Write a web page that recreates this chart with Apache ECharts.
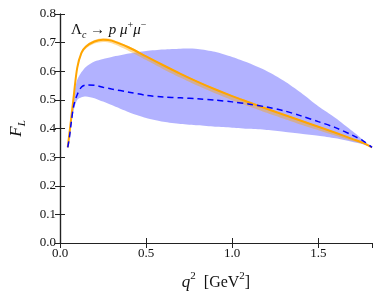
<!DOCTYPE html>
<html>
<head>
<meta charset="utf-8">
<script src="https://cdn.jsdelivr.net/npm/echarts@6/dist/echarts.min.js"></script>
<style>html,body{margin:0;padding:0;background:#fff}#c{width:382px;height:296px}</style>
</head>
<body>
<div id="c"></div>
<script>
const q2 = [0.045,0.055,0.065,0.08,0.1,0.125,0.15,0.2,0.25,0.3,0.4,0.5,0.6,0.7,0.8,0.9,1.0,1.1,1.2,1.3,1.4,1.5,1.6,1.7,1.76,1.812];
const smCentral = [0.334,0.385,0.435,0.515,0.612,0.665,0.686,0.704,0.710,0.707,0.683,0.652,0.621,0.591,0.563,0.537,0.513,0.491,0.469,0.448,0.427,0.406,0.385,0.363,0.350,0.334];
const smUpper = [0.334,0.386,0.437,0.518,0.616,0.670,0.691,0.709,0.715,0.712,0.687,0.655,0.624,0.594,0.566,0.540,0.516,0.494,0.472,0.451,0.430,0.409,0.387,0.365,0.351,0.334];
const smLower = [0.334,0.384,0.433,0.511,0.606,0.658,0.679,0.697,0.702,0.698,0.671,0.639,0.607,0.577,0.549,0.523,0.499,0.477,0.455,0.434,0.413,0.394,0.375,0.356,0.346,0.334];
const npCentral = [0.334,0.370,0.420,0.480,0.518,0.545,0.552,0.551,0.544,0.538,0.527,0.516,0.510,0.507,0.504,0.499,0.493,0.485,0.475,0.462,0.444,0.424,0.403,0.376,0.357,0.334];
const npUpper = [0.334,0.385,0.435,0.515,0.570,0.597,0.615,0.634,0.643,0.650,0.662,0.671,0.676,0.679,0.678,0.668,0.650,0.628,0.601,0.567,0.525,0.478,0.437,0.390,0.360,0.334];
const npLower = [0.334,0.360,0.410,0.465,0.500,0.509,0.512,0.506,0.494,0.482,0.457,0.437,0.424,0.416,0.411,0.406,0.403,0.399,0.395,0.389,0.382,0.375,0.366,0.353,0.345,0.334];
const xTicks = [0, 0.5, 1.0, 1.5];
const xMax = 1.812;
const yMax = 0.8;

const pair = (ys) => q2.map((x, i) => [x, ys[i]]);

function bandSeries(lo, hi, color) {
  return {
    type: 'custom', silent: true, clip: true,
    data: q2.map((x, i) => [x, lo[i], hi[i]]),
    encode: {x: 0, y: [1, 2]},
    renderItem: function (params, api) {
      if (params.dataIndex !== 0) return null;
      const pts = [];
      for (let i = 0; i < q2.length; i++) pts.push(api.coord([q2[i], hi[i]]));
      for (let i = q2.length - 1; i >= 0; i--) pts.push(api.coord([q2[i], lo[i]]));
      return {type: 'polygon', shape: {points: pts, smooth: 0.25}, style: {fill: color}};
    }
  };
}

const serif = 'Liberation Serif';
const axisCol = '#222';
const chart = echarts.init(document.getElementById('c'), null, {renderer: 'canvas'});
const xFmt = v => xTicks.some(t => Math.abs(t - v) < 1e-6) ? v.toFixed(1) : '';
const common = {
  axisLine: {show: true, lineStyle: {color: axisCol, width: 1.2}},
  axisTick: {show: true, inside: true, length: 5, lineStyle: {color: axisCol, width: 1}},
  splitLine: {show: false}
};
chart.setOption({
  animation: false,
  grid: {left: 51, right: 10, top: 14, bottom: 51},
  xAxis: [
    Object.assign({type: 'value', min: 0, max: xMax, interval: 0.5, position: 'bottom',
      axisLabel: {formatter: xFmt, fontFamily: serif, fontSize: 13, color: '#111', margin: 4, showMaxLabel: false},
      name: '{i|q}{s|2}{n|  [GeV}{s|2}{n|]}', nameLocation: 'middle', nameGap: 28,
      nameTextStyle: {rich: {
        i: {fontFamily: serif, fontStyle: 'italic', fontSize: 17, color: '#111', verticalAlign: 'bottom', lineHeight: 20},
        n: {fontFamily: serif, fontSize: 16, color: '#111', verticalAlign: 'bottom', lineHeight: 20},
        s: {fontFamily: serif, fontSize: 11, color: '#111', verticalAlign: 'top', lineHeight: 11}
      }}}, common),
    Object.assign({type: 'value', min: 0, max: xMax, interval: 0.5, position: 'top',
      axisLabel: {show: false}}, common)
  ],
  yAxis: [
    Object.assign({type: 'value', min: 0, max: yMax, interval: 0.1, position: 'left',
      axisLabel: {formatter: v => v.toFixed(1), fontFamily: serif, fontSize: 13, color: '#111', margin: 4},
      name: '{i|F}{s|L}', nameLocation: 'middle', nameGap: 32,
      nameTextStyle: {rich: {
        i: {fontFamily: serif, fontStyle: 'italic', fontSize: 17, color: '#111', verticalAlign: 'top', lineHeight: 20},
        s: {fontFamily: serif, fontStyle: 'italic', fontSize: 11, color: '#111', verticalAlign: 'bottom', lineHeight: 11}
      }}}, common),
    Object.assign({type: 'value', min: 0, max: yMax, interval: 0.1, position: 'right',
      axisLabel: {show: false}}, common)
  ],
  graphic: [{
    type: 'text', left: 71, top: 20,
    style: {
      text: '{a|Λ}{s|c}{a| → }{i|p}{a| }{i|μ}{p|+}{i|μ}{p|−}',
      rich: {
        a: {fontFamily: serif, fontSize: 15, fill: '#111', lineHeight: 20, verticalAlign: 'middle'},
        i: {fontFamily: serif, fontStyle: 'italic', fontSize: 15, fill: '#111', lineHeight: 20, verticalAlign: 'middle'},
        s: {fontFamily: serif, fontStyle: 'italic', fontSize: 10, fill: '#111', lineHeight: 11, verticalAlign: 'bottom'},
        p: {fontFamily: serif, fontSize: 10, fill: '#111', lineHeight: 11, verticalAlign: 'top'}
      }
    }
  }],
  series: [
    bandSeries(npLower, npUpper, 'rgba(0,0,255,0.3)'),
    bandSeries(smLower, smUpper, 'rgba(255,165,0,0.4)'),
    {type: 'line', data: pair(smCentral), symbol: 'none', smooth: 0.3,
      lineStyle: {color: '#FFA500', width: 2}},
    {type: 'line', data: pair(npCentral), symbol: 'none', smooth: 0.3,
      lineStyle: {color: '#0000FF', width: 1.5, type: [6, 4]}}
  ]
});
</script>
</body>
</html>
